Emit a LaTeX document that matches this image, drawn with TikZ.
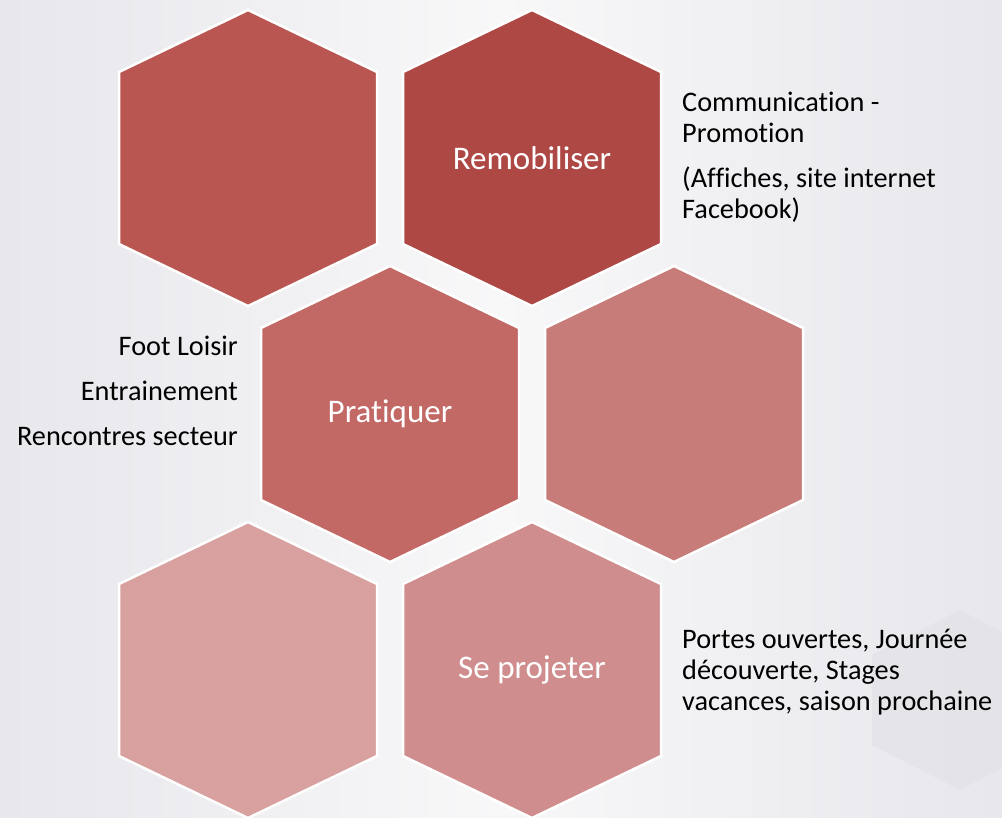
\documentclass[tikz,border=0pt]{standalone}
\usepackage{fontspec}
\setmainfont{Carlito}[Ligatures=NoCommon]
\usepackage{xcolor}
\definecolor{hexA}{HTML}{BA5652}
\definecolor{hexB}{HTML}{AE4845}
\definecolor{hexC}{HTML}{C26865}
\definecolor{hexD}{HTML}{C77C79}
\definecolor{hexE}{HTML}{D8A1A0}
\definecolor{hexF}{HTML}{CF8E8D}
\definecolor{bgside}{HTML}{E7E7EC}
\definecolor{bgmid}{HTML}{F8F8F9}
\definecolor{ghost}{HTML}{E2E2E6}
\tikzset{
    hexcell/.style={draw=white, line width=2.5pt, line join=miter},
    hexlabel/.style={text=white, font=\fontsize{33}{38}\selectfont, inner sep=0pt},
    sidetext/.style={text=black, font=\fontsize{28.3}{31}\selectfont, inner sep=0pt},
}
\begin{document}
\begin{tikzpicture}[x=1pt, y=-1pt]
		% background
		\shade[left color=bgside, right color=bgside, middle color=bgmid] (0,0) rectangle (1002,818);
		\useasboundingbox (0,0) rectangle (1002,818);
		\fill[ghost, opacity=0.6] (960,610) -- (1045,655) -- (1045,745) -- (960,790) -- (872,745) -- (872,655) -- cycle;
		% honeycomb
		\foreach \cx/\cy/\col in {248/158/hexA, 532/158/hexB, 390/414/hexC, 674/414/hexD, 248/670/hexE, 532/670/hexF}
			\draw[hexcell, fill=\col] (\cx,\cy) ++(0,-148) -- ++(129,62) -- ++(0,172) -- ++(-129,62) -- ++(-129,-62) -- ++(0,-172) -- cycle;
		\node[hexlabel] (remob) at (532,158) {Remobiliser};
		\node[hexlabel] (prat) at (390,414) {Pratiquer};
		\node[hexlabel] (proj) at (532,670) {Se projeter};
		% side texts
		\node[sidetext, anchor=base west, align=left] (comm) at (682,143) {Communication -\\Promotion};
		\node[sidetext, anchor=base west, align=left] (affi) at (682,219) {(Affiches, site internet\\Facebook)};
		\node[sidetext, anchor=base east] (foot) at (238,356) {Foot Loisir};
		\node[sidetext, anchor=base east] (entr) at (238,401) {Entrainement};
		\node[sidetext, anchor=base east] (renc) at (238,446) {Rencontres secteur};
		\node[sidetext, anchor=base west, align=left] (port) at (682,710) {Portes ouvertes, Journée\\découverte, Stages\\vacances, saison prochaine};
	\end{tikzpicture}
\end{document}
